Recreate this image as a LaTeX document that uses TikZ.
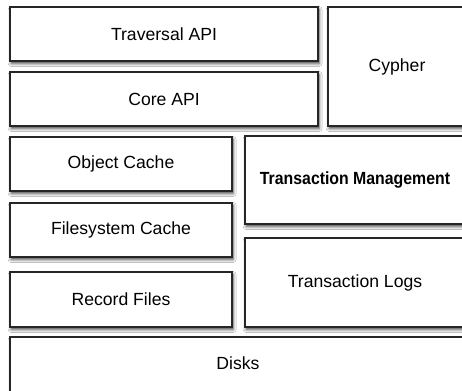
\documentclass[tikz,border=0pt]{standalone}
\usepackage{fontspec}
\setmainfont{Liberation Sans}
\newfontfamily\narrowbold[FakeStretch=0.9]{Liberation Sans}
\usetikzlibrary{shadows.blur}

\tikzset{
  layer/.style={draw=black!85, line width=1.3pt, fill=white, rectangle, inner sep=0pt,
    blur shadow={shadow xshift=1.2pt, shadow yshift=-2.5pt, shadow blur radius=3pt, shadow opacity=75},
    font=\fontsize{17.6}{20}\selectfont},
}

\begin{document}
\begin{tikzpicture}[x=1pt, y=-1pt]
        \clip (0,0) rectangle (462,390);
        \fill[white] (0,0) rectangle (462,390);

        % API
        \node[layer, minimum width=308pt, minimum height=54pt] (traversal) at (164,34) {Traversal API};
        \node[layer, minimum width=308pt, minimum height=54pt] (coreapi) at (164,99) {Core API};
        \node[layer, minimum width=138pt, minimum height=119pt] (cypher) at (397,66.5) {Cypher};

        % Cache e file
        \node[layer, minimum width=222pt, minimum height=54pt] (objcache) at (121,164) {Object Cache};
        \node[layer, minimum width=222pt, minimum height=54pt] (fscache) at (121,230) {Filesystem Cache};
        \node[layer, minimum width=222pt, minimum height=55pt] (records) at (121,299.5) {Record Files};

        % Transazioni
        \node[layer, minimum width=220pt, minimum height=88pt, font=\narrowbold\bfseries\fontsize{17.6}{20}\selectfont] (txmgmt) at (355,180) {Transaction Management};
        \node[layer, minimum width=220pt, minimum height=89pt] (txlogs) at (355,282.5) {Transaction Logs};

        % Dischi
        \node[layer, minimum width=456pt, minimum height=60pt] (disks) at (238,367) {};
        \node[font=\fontsize{17.6}{20}\selectfont] (diskslabel) at (238,363) {Disks};
\end{tikzpicture}
\end{document}
